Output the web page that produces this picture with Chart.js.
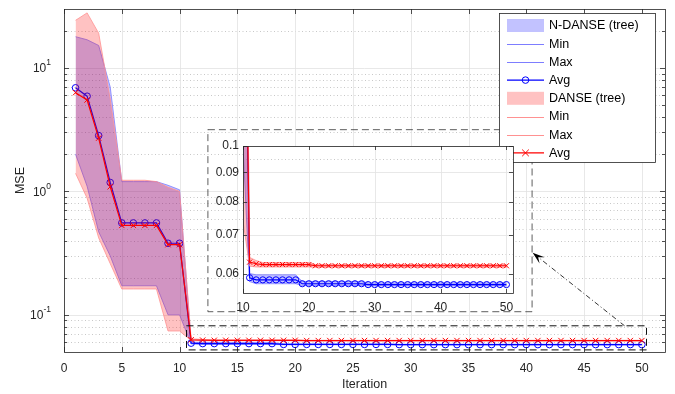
<!DOCTYPE html>
<html>
<head>
<meta charset="utf-8">
<script src="https://cdn.jsdelivr.net/npm/chart.js@4/dist/chart.umd.min.js"></script>
<style>
  html, body { margin: 0; padding: 0; background: #fff; }
  #wrap { position: relative; width: 675px; height: 394px; }
  #wrap canvas { position: absolute; left: 0; top: 0; }
</style>
</head>
<body>
<div id="wrap">
  <canvas id="mainChart" width="675" height="394"></canvas>
  <canvas id="zoomChart" width="675" height="394"></canvas>
</div>
<script>
// ---- data ----
const iterations = [1, 2, 3, 4, 5, 6, 7, 8, 9, 10,
  11, 12, 13, 14, 15, 16, 17, 18, 19, 20,
  21, 22, 23, 24, 25, 26, 27, 28, 29, 30,
  31, 32, 33, 34, 35, 36, 37, 38, 39, 40,
  41, 42, 43, 44, 45, 46, 47, 48, 49, 50];

// N-DANSE (tree)
const ndanseAvg = [6.9, 5.9, 2.83, 1.18, 0.555, 0.555, 0.555, 0.555, 0.38, 0.38,
  0.0590, 0.0585, 0.0585, 0.0585, 0.0585, 0.0585, 0.0585, 0.0585, 0.0576, 0.0576,
  0.0576, 0.0576, 0.0576, 0.0576, 0.0576, 0.0576, 0.0576, 0.0576, 0.0574, 0.0574,
  0.0574, 0.0574, 0.0574, 0.0574, 0.0574, 0.0574, 0.0574, 0.0574, 0.0574, 0.0574,
  0.0574, 0.0574, 0.0574, 0.0574, 0.0574, 0.0574, 0.0574, 0.0574, 0.0574, 0.0574];
const ndanseMax = [17.9, 16.9, 15.2, 7.0, 1.2, 1.2, 1.2, 1.2, 1.12, 1.03,
  0.0600, 0.0597, 0.0597, 0.0597, 0.0597, 0.0597, 0.0597, 0.0597, 0.0581, 0.0581,
  0.0581, 0.0581, 0.0581, 0.0581, 0.0581, 0.0581, 0.0581, 0.0581, 0.0578, 0.0578,
  0.0578, 0.0578, 0.0578, 0.0578, 0.0578, 0.0578, 0.0578, 0.0578, 0.0578, 0.0578,
  0.0578, 0.0578, 0.0578, 0.0578, 0.0578, 0.0578, 0.0578, 0.0578, 0.0578, 0.0578];
const ndanseMin = [2.0, 1.1, 0.47, 0.30, 0.172, 0.172, 0.172, 0.172, 0.100, 0.100,
  0.0581, 0.0576, 0.0576, 0.0576, 0.0576, 0.0576, 0.0576, 0.0576, 0.0572, 0.0572,
  0.0572, 0.0572, 0.0572, 0.0572, 0.0572, 0.0572, 0.0572, 0.0572, 0.0571, 0.0571,
  0.0571, 0.0571, 0.0571, 0.0571, 0.0571, 0.0571, 0.0571, 0.0571, 0.0571, 0.0571,
  0.0571, 0.0571, 0.0571, 0.0571, 0.0571, 0.0571, 0.0571, 0.0571, 0.0571, 0.0571];

// DANSE (tree)
const danseAvg = [6.3, 5.5, 2.7, 1.09, 0.53, 0.53, 0.53, 0.53, 0.37, 0.37,
  0.0628, 0.0624, 0.0622, 0.0622, 0.0622, 0.0622, 0.0622, 0.0622, 0.0622, 0.0622,
  0.0619, 0.0619, 0.0619, 0.0619, 0.0619, 0.0619, 0.0619, 0.0619, 0.0619, 0.0619,
  0.0619, 0.0619, 0.0619, 0.0619, 0.0619, 0.0619, 0.0619, 0.0619, 0.0619, 0.0619,
  0.0619, 0.0619, 0.0619, 0.0619, 0.0619, 0.0619, 0.0619, 0.0619, 0.0619, 0.0619];
const danseMax = [24.3, 27.9, 19.1, 5.6, 1.23, 1.23, 1.23, 1.2, 1.08, 1.0,
  0.0640, 0.0632, 0.0627, 0.0627, 0.0627, 0.0627, 0.0627, 0.0627, 0.0627, 0.0627,
  0.0622, 0.0622, 0.0622, 0.0622, 0.0622, 0.0622, 0.0622, 0.0622, 0.0622, 0.0622,
  0.0622, 0.0622, 0.0622, 0.0622, 0.0622, 0.0622, 0.0622, 0.0622, 0.0622, 0.0622,
  0.0622, 0.0622, 0.0622, 0.0622, 0.0622, 0.0622, 0.0622, 0.0622, 0.0622, 0.0622];
const danseMin = [1.4, 0.88, 0.42, 0.26, 0.162, 0.162, 0.162, 0.162, 0.074, 0.074,
  0.0618, 0.0616, 0.0616, 0.0616, 0.0616, 0.0616, 0.0616, 0.0616, 0.0616, 0.0616,
  0.0615, 0.0615, 0.0615, 0.0615, 0.0615, 0.0615, 0.0615, 0.0615, 0.0615, 0.0615,
  0.0615, 0.0615, 0.0615, 0.0615, 0.0615, 0.0615, 0.0615, 0.0615, 0.0615, 0.0615,
  0.0615, 0.0615, 0.0615, 0.0615, 0.0615, 0.0615, 0.0615, 0.0615, 0.0615, 0.0615];

// ---- ticks and labels ----
const xTickValues = [0, 5, 10, 15, 20, 25, 30, 35, 40, 45, 50];
const yTickValues = [0.1, 1, 10];
const yTickExponents = ['-1', '0', '1'];
const yDecades = [0.01, 0.1, 1, 10];
const zoomXTicks = [10, 20, 30, 40, 50];
const zoomYTicks = [0.06, 0.07, 0.08, 0.09, 0.1];
const zoomYLabels = ['0.06', '0.07', '0.08', '0.09', '0.1'];
const zoomYMinorGrid = [0.065, 0.075, 0.095];
const legendLabels = ['N-DANSE (tree)', 'Min', 'Max', 'Avg', 'DANSE (tree)', 'Min', 'Max', 'Avg'];
const xTitle = 'Iteration';
const yTitle = 'MSE';

// ---- styling ----
const FONT = '"Liberation Sans", Arial, Helvetica, sans-serif';
const TEXT = '#262626';
const AXIS = '#262626';
const GRID = '#e2e2e2';
const MINOR = 'rgba(140,140,140,0.6)';
const BLUE = '#0000ff';
const RED = '#ff0000';
const BLUE_FILL = 'rgba(0,0,255,0.24)';
const RED_FILL = 'rgba(255,0,0,0.24)';
const BLUE_EDGE = 'rgb(125,125,255)';
const RED_EDGE = 'rgb(255,145,145)';

Chart.defaults.font.family = FONT;
Chart.defaults.color = TEXT;

function pts(vals) { return iterations.map((it, i) => ({ x: it, y: vals[i] })); }

function seriesSets(r) {
  return [
    { data: pts(ndanseMax), borderColor: BLUE_EDGE, borderWidth: 0.8, pointRadius: 0,
      fill: 1, backgroundColor: BLUE_FILL, order: 8 },
    { data: pts(ndanseMin), borderColor: BLUE_EDGE, borderWidth: 0.8, pointRadius: 0,
      fill: false, order: 7 },
    { data: pts(ndanseAvg), borderColor: BLUE, borderWidth: 1.2, fill: false, order: 6,
      pointStyle: 'circle', pointRadius: r, pointBorderWidth: 1,
      pointBorderColor: BLUE, pointBackgroundColor: 'rgba(0,0,0,0)' },
    { data: pts(danseMax), borderColor: RED_EDGE, borderWidth: 0.8, pointRadius: 0,
      fill: 4, backgroundColor: RED_FILL, order: 5 },
    { data: pts(danseMin), borderColor: RED_EDGE, borderWidth: 0.8, pointRadius: 0,
      fill: false, order: 4 },
    { data: pts(danseAvg), borderColor: RED, borderWidth: 1.2, fill: false, order: 3,
      pointStyle: 'crossRot', pointRadius: r + 0.5, pointBorderWidth: 1,
      pointBorderColor: RED, pointBackgroundColor: RED }
  ];
}

function line(ctx, x0, y0, x1, y1) {
  ctx.beginPath(); ctx.moveTo(x0, y0); ctx.lineTo(x1, y1); ctx.stroke();
}

function minorValues(lo, hi) {
  const out = [];
  yDecades.forEach(d => { for (let m = 2; m <= 9; m++) { const v = m * d; if (v > lo && v < hi) out.push(v); } });
  return out;
}

// annotation geometry in main-axis data units
const zoomBox = { x0: 10.6, x1: 50.4, y0: 0.052, y1: 0.0815 };
const insetFrame = { x0: 12.45, x1: 40.5, y0: 0.106, y1: 3.16 };
const arrowFrom = { x: 48.5, y: 0.0815 };
const arrowTo = { x: 40.55, y: 0.318 };

function drawLegend(ctx) {
  const L = { x: 499.5, y: 13.5, w: 156, h: 149 };
  ctx.save();
  ctx.fillStyle = '#fff';
  ctx.fillRect(L.x, L.y, L.w, L.h);
  ctx.strokeStyle = AXIS; ctx.lineWidth = 0.8; ctx.setLineDash([]);
  ctx.strokeRect(L.x, L.y, L.w, L.h);
  const sx0 = 507, sx1 = 544, mx = (sx0 + sx1) / 2, tx = 549;
  ctx.font = '12.5px ' + FONT;
  ctx.textAlign = 'left'; ctx.textBaseline = 'middle';
  legendLabels.forEach((lab, i) => {
    const cy = L.y + 12 + i * 18.2;
    const blue = i < 4;
    const k = i % 4;
    if (k === 0) {
      ctx.fillStyle = blue ? BLUE_FILL : RED_FILL;
      ctx.fillRect(sx0, cy - 6.5, sx1 - sx0, 13);
    } else if (k === 1 || k === 2) {
      ctx.strokeStyle = blue ? BLUE_EDGE : RED_EDGE; ctx.lineWidth = 1;
      line(ctx, sx0, Math.round(cy) + 0.5, sx1, Math.round(cy) + 0.5);
    } else {
      ctx.strokeStyle = blue ? BLUE : RED; ctx.lineWidth = 1.2;
      line(ctx, sx0, cy, sx1, cy);
      ctx.lineWidth = 1;
      if (blue) { ctx.beginPath(); ctx.arc(mx, cy, 3.3, 0, Math.PI * 2); ctx.stroke(); }
      else { line(ctx, mx - 3.3, cy - 3.3, mx + 3.3, cy + 3.3); line(ctx, mx - 3.3, cy + 3.3, mx + 3.3, cy - 3.3); }
    }
    ctx.fillStyle = '#000';
    ctx.fillText(lab, tx, cy + 0.5);
  });
  ctx.restore();
}

const mainDecor = {
  id: 'mainDecor',
  beforeDatasetsDraw(chart) {
    const { ctx, chartArea: a, scales: { x, y } } = chart;
    ctx.save();
    ctx.beginPath(); ctx.rect(a.left, a.top, a.right - a.left, a.bottom - a.top); ctx.clip();
    ctx.lineWidth = 0.8;
    ctx.strokeStyle = MINOR; ctx.setLineDash([1, 2.5]);
    minorValues(y.min, y.max).forEach(v => { const p = Math.round(y.getPixelForValue(v)) + 0.5; line(ctx, a.left, p, a.right, p); });
    ctx.setLineDash([]);
    ctx.strokeStyle = GRID;
    xTickValues.forEach(v => { const p = Math.round(x.getPixelForValue(v)) + 0.5; line(ctx, p, a.top, p, a.bottom); });
    yTickValues.forEach(v => { const p = Math.round(y.getPixelForValue(v)) + 0.5; line(ctx, a.left, p, a.right, p); });
    ctx.restore();
  },
  afterDatasetsDraw(chart) {
    const { ctx, chartArea: a, scales: { x, y } } = chart;
    ctx.save();
    ctx.setLineDash([]);
    ctx.strokeStyle = AXIS; ctx.lineWidth = 0.8;
    ctx.strokeRect(a.left + 0.5, a.top + 0.5, a.right - a.left, a.bottom - a.top);
    xTickValues.forEach(v => {
      const p = Math.round(x.getPixelForValue(v)) + 0.5;
      line(ctx, p, a.bottom, p, a.bottom - 5); line(ctx, p, a.top, p, a.top + 5);
    });
    yTickValues.forEach(v => {
      const p = Math.round(y.getPixelForValue(v)) + 0.5;
      line(ctx, a.left, p, a.left + 5, p); line(ctx, a.right, p, a.right - 5, p);
    });
    minorValues(y.min, y.max).forEach(v => {
      const p = Math.round(y.getPixelForValue(v)) + 0.5;
      line(ctx, a.left, p, a.left + 3, p); line(ctx, a.right, p, a.right - 3, p);
    });
    // y tick labels with exponents
    ctx.fillStyle = TEXT; ctx.textBaseline = 'middle'; ctx.textAlign = 'right';
    yTickValues.forEach((v, i) => {
      const p = y.getPixelForValue(v);
      ctx.font = '8.5px ' + FONT;
      const ew = ctx.measureText(yTickExponents[i]).width;
      ctx.fillText(yTickExponents[i], 51, p - 5);
      ctx.font = '12px ' + FONT;
      ctx.fillText('10', 51 - ew, p + 1);
    });
    // axis titles
    ctx.font = '12.5px ' + FONT; ctx.textAlign = 'center';
    ctx.fillText(xTitle, (a.left + a.right) / 2, 385);
    ctx.save();
    ctx.translate(21, (a.top + a.bottom) / 2); ctx.rotate(-Math.PI / 2);
    ctx.fillText(yTitle, 0, 0);
    ctx.restore();
    // zoom region and inset frame
    ctx.lineWidth = 1;
    ctx.setLineDash([7, 4]);
    ctx.strokeStyle = '#111';
    let X0 = x.getPixelForValue(zoomBox.x0), X1 = x.getPixelForValue(zoomBox.x1);
    let Y0 = y.getPixelForValue(zoomBox.y1), Y1 = y.getPixelForValue(zoomBox.y0);
    ctx.strokeRect(X0, Y0, X1 - X0, Y1 - Y0);
    ctx.strokeStyle = 'rgba(40,40,40,0.75)';
    X0 = x.getPixelForValue(insetFrame.x0); X1 = x.getPixelForValue(insetFrame.x1);
    Y0 = y.getPixelForValue(insetFrame.y1); Y1 = y.getPixelForValue(insetFrame.y0);
    ctx.strokeRect(X0, Y0, X1 - X0, Y1 - Y0);
    // arrow
    const ax0 = x.getPixelForValue(arrowFrom.x), ay0 = y.getPixelForValue(arrowFrom.y);
    const ax1 = x.getPixelForValue(arrowTo.x), ay1 = y.getPixelForValue(arrowTo.y);
    const ang = Math.atan2(ay1 - ay0, ax1 - ax0);
    const hl = 10, hw = 4;
    const bx = ax1 - hl * Math.cos(ang), by = ay1 - hl * Math.sin(ang);
    ctx.strokeStyle = '#000'; ctx.lineWidth = 0.8; ctx.setLineDash([5, 2.5, 1, 2.5]);
    line(ctx, ax0, ay0, bx, by);
    ctx.setLineDash([]);
    ctx.fillStyle = '#000';
    ctx.beginPath();
    ctx.moveTo(ax1, ay1);
    ctx.lineTo(bx + hw * Math.sin(ang) - 2 * Math.cos(ang), by - hw * Math.cos(ang) - 2 * Math.sin(ang));
    ctx.lineTo(ax1 - 0.7 * hl * Math.cos(ang), ay1 - 0.7 * hl * Math.sin(ang));
    ctx.lineTo(bx - hw * Math.sin(ang) - 2 * Math.cos(ang), by + hw * Math.cos(ang) - 2 * Math.sin(ang));
    ctx.closePath(); ctx.fill();
    ctx.restore();
    drawLegend(ctx);
  }
};

new Chart(document.getElementById('mainChart'), {
  type: 'line',
  data: { datasets: seriesSets(3.3) },
  options: {
    responsive: false, animation: false, events: [],
    layout: { padding: { top: 9, right: 10, left: 0, bottom: 0 } },
    elements: { line: { tension: 0 } },
    plugins: { legend: { display: false }, tooltip: { enabled: false } },
    scales: {
      x: {
        type: 'linear', min: 0, max: 52,
        afterBuildTicks: s => { s.ticks = xTickValues.map(v => ({ value: v })); },
        afterFit: s => { s.height = 42; },
        grid: { display: false, drawTicks: false }, border: { display: false },
        ticks: { font: { size: 12 }, color: TEXT, padding: 9, maxRotation: 0, autoSkip: false }
      },
      y: {
        type: 'logarithmic', min: 0.05, max: 30,
        afterFit: s => { s.width = 64; },
        grid: { display: false, drawTicks: false }, border: { display: false },
        ticks: { display: false }
      }
    }
  },
  plugins: [mainDecor]
});

const zoomDecor = {
  id: 'zoomDecor',
  beforeDatasetsDraw(chart) {
    const { ctx, chartArea: a, scales: { x, y } } = chart;
    ctx.save();
    ctx.fillStyle = '#fff';
    ctx.fillRect(a.left, a.top, a.right - a.left, a.bottom - a.top);
    ctx.lineWidth = 0.8;
    ctx.strokeStyle = MINOR; ctx.setLineDash([1, 2.5]);
    zoomYMinorGrid.forEach(v => { const p = Math.round(y.getPixelForValue(v)) + 0.5; line(ctx, a.left, p, a.right, p); });
    ctx.setLineDash([]);
    ctx.strokeStyle = GRID;
    zoomXTicks.forEach(v => { const p = Math.round(x.getPixelForValue(v)) + 0.5; line(ctx, p, a.top, p, a.bottom); });
    zoomYTicks.forEach(v => { const p = Math.round(y.getPixelForValue(v)) + 0.5; line(ctx, a.left, p, a.right, p); });
    ctx.restore();
  },
  afterDatasetsDraw(chart) {
    const { ctx, chartArea: a, scales: { x, y } } = chart;
    ctx.save();
    ctx.strokeStyle = AXIS; ctx.lineWidth = 0.8;
    ctx.strokeRect(a.left + 0.5, a.top + 0.5, a.right - a.left, a.bottom - a.top);
    zoomXTicks.forEach(v => {
      const p = Math.round(x.getPixelForValue(v)) + 0.5;
      line(ctx, p, a.bottom, p, a.bottom - 4); line(ctx, p, a.top, p, a.top + 4);
    });
    zoomYTicks.forEach(v => {
      const p = Math.round(y.getPixelForValue(v)) + 0.5;
      line(ctx, a.left, p, a.left + 4, p); line(ctx, a.right, p, a.right - 4, p);
    });
    ctx.restore();
  }
};

new Chart(document.getElementById('zoomChart'), {
  type: 'line',
  data: { datasets: seriesSets(3.1).map(d => Object.assign(d, { clip: 0 })) },
  options: {
    responsive: false, animation: false, events: [],
    layout: { padding: { top: 146, right: 162, left: 0, bottom: 0 } },
    elements: { line: { tension: 0 } },
    plugins: { legend: { display: false }, tooltip: { enabled: false } },
    scales: {
      x: {
        type: 'linear', min: 10, max: 51,
        afterBuildTicks: s => { s.ticks = zoomXTicks.map(v => ({ value: v })); },
        afterFit: s => { s.height = 101; },
        grid: { display: false, drawTicks: false }, border: { display: false },
        ticks: { font: { size: 12 }, color: TEXT, padding: 7, maxRotation: 0, autoSkip: false }
      },
      y: {
        type: 'logarithmic', min: 0.0555, max: 0.1,
        afterBuildTicks: s => { s.ticks = zoomYTicks.map(v => ({ value: v })); },
        afterFit: s => { s.width = 243; },
        grid: { display: false, drawTicks: false }, border: { display: false },
        ticks: { font: { size: 12 }, color: TEXT, padding: 4, autoSkip: false,
          callback: (v, i) => zoomYLabels[i] }
      }
    }
  },
  plugins: [zoomDecor]
});
</script>
</body>
</html>
